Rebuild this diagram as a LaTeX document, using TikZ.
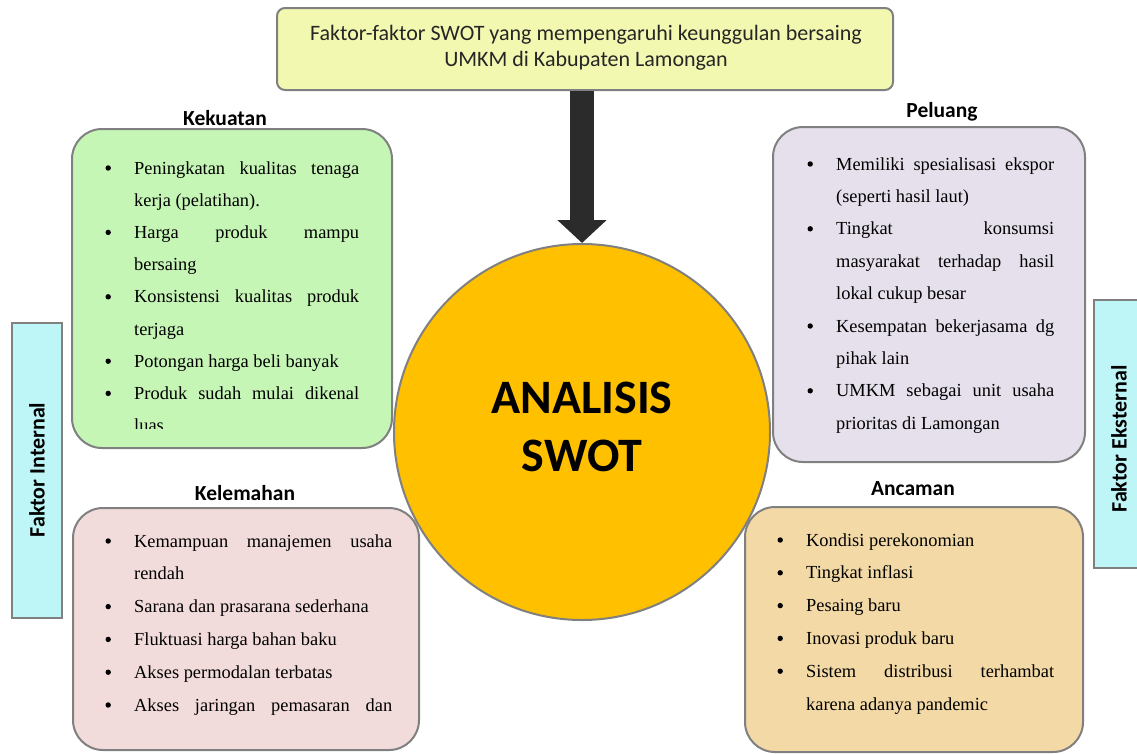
\documentclass[tikz,border=0pt]{standalone}
\usepackage{fontspec}
\setmainfont{Liberation Serif}
\newfontfamily\calfont{Carlito}
\usetikzlibrary{arrows.meta}
\definecolor{bordc}{HTML}{808080}
\definecolor{topc}{HTML}{F3F8B0}
\definecolor{kekc}{HTML}{C6F6B6}
\definecolor{kelc}{HTML}{F2DCDB}
\definecolor{pelc}{HTML}{E5E0EC}
\definecolor{ancc}{HTML}{F3D9A5}
\definecolor{sidec}{HTML}{BEF6F8}
\definecolor{circc}{HTML}{FFC000}
\definecolor{arrc}{HTML}{2B2B2B}
\newcommand{\bitem}{\par\noindent\llap{\tikz[baseline=0pt]\fill[black] (0pt,6pt) circle[radius=2.7pt];\hspace{23.3pt}}}
\newcommand{\blist}[3]{\parbox[t]{#1}{\fontsize{18.4pt}{#2}\selectfont\setlength\parindent{0pt}\setlength\parskip{0pt}\leftskip=34pt\relax #3\par}}
\begin{document}
\begin{tikzpicture}[x=1pt,y=-1pt,
  qbox/.style={draw=bordc, line width=2pt, rounded corners=30pt, inner sep=0pt},
  sidebox/.style={draw=bordc, line width=2.6pt, fill=sidec, inner sep=0pt},
  head/.style={font=\calfont\bfseries\fontsize{21.5pt}{24pt}\selectfont, inner sep=0pt},
  itemtext/.style={anchor=base west, inner sep=0pt},
  sidelabel/.style={rotate=90, font=\calfont\bfseries\fontsize{22pt}{24pt}\selectfont, inner sep=0pt}]
\useasboundingbox (0,0) rectangle (1137,753);

% top box
\node[draw=bordc, line width=2pt, rounded corners=8pt, fill=topc, minimum width=616pt, minimum height=82pt, inner sep=0pt] (top) at (585,49) {};
\node[align=center, font=\calfont\fontsize{22pt}{26pt}\selectfont, text=black!85, inner sep=0pt] (toptext) at (586,48)
  {Faktor-faktor SWOT yang mempengaruhi keunggulan bersaing\\UMKM di Kabupaten Lamongan};

% side boxes
\node[sidebox, minimum width=50pt, minimum height=295pt] (fibox) at (37,470.5) {};
\node[sidelabel] (filabel) at (37,470) {Faktor Internal};
\node[sidebox, minimum width=58pt, minimum height=268pt] (febox) at (1123,434) {};
\node[sidelabel] (felabel) at (1119,439) {Faktor Eksternal};

% quadrant boxes
\node[qbox, fill=kekc, minimum width=320pt, minimum height=319pt] (kek) at (232,288.5) {};
\node[qbox, fill=kelc, minimum width=346pt, minimum height=242pt] (kel) at (246,629) {};
\node[qbox, fill=pelc, minimum width=312pt, minimum height=335pt] (pel) at (929,294.5) {};
\node[qbox, fill=ancc, minimum width=338pt, minimum height=245pt] (anc) at (914,629.5) {};

% headings
\node[head] (kekh) at (225,118) {Kekuatan};
\node[head] (kelh) at (245,493) {Kelemahan};
\node[head] (pelh) at (942,112) {Peluang};
\node[head] (anch) at (913,489) {Ancaman};

% texts
\begin{scope}
\clip (72,129) rectangle (392,428);
\node[itemtext] (kekt) at (100,174) {\blist{259pt}{32.2pt}{%
\bitem Peningkatan kualitas tenaga\linebreak kerja (pelatihan).
\bitem Harga produk mampu\linebreak bersaing
\bitem Konsistensi kualitas produk\linebreak terjaga
\bitem Potongan harga beli banyak
\bitem Produk sudah mulai dikenal\linebreak luas}};
\end{scope}

\node[itemtext] (kelt) at (100,547) {\blist{292pt}{32.8pt}{%
\bitem Kemampuan manajemen usaha\linebreak rendah
\bitem Sarana dan prasarana sederhana
\bitem Fluktuasi harga bahan baku
\bitem Akses permodalan terbatas
\bitem Akses jaringan pemasaran dan\linebreak\mbox{}}};

\node[itemtext] (pelt) at (802,170) {\blist{252pt}{32.4pt}{%
\bitem Memiliki spesialisasi ekspor\linebreak (seperti hasil laut)
\bitem Tingkat konsumsi\linebreak masyarakat terhadap hasil\linebreak lokal cukup besar
\bitem Kesempatan bekerjasama dg\linebreak pihak lain
\bitem UMKM sebagai unit usaha\linebreak prioritas di Lamongan}};

\node[itemtext] (anct) at (772,546) {\blist{282pt}{32.8pt}{%
\bitem Kondisi perekonomian
\bitem Tingkat inflasi
\bitem Pesaing baru
\bitem Inovasi produk baru
\bitem Sistem distribusi terhambat\linebreak karena adanya pandemic}};

% central circle
\node[circle, draw=bordc, line width=2pt, fill=circc, minimum size=376pt, inner sep=0pt] (c) at (582,432) {};
\node[align=center, font=\calfont\bfseries\fontsize{48pt}{58pt}\selectfont, inner sep=0pt] (swot) at (582,427) {ANALISIS\\SWOT};

% arrow
\draw[arrc, line width=23.5pt, -{Triangle[length=23pt,width=48pt]}] (c.north |- top.south) -- (c.north);
\end{tikzpicture}
\end{document}
